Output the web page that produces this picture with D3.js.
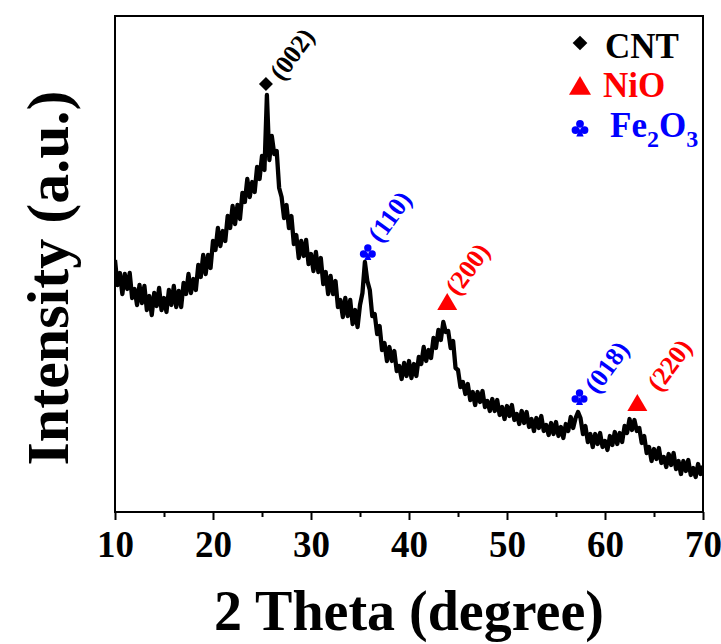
<!DOCTYPE html>
<html><head><meta charset="utf-8">
<script src="https://cdn.jsdelivr.net/npm/d3@7"></script>
<style>body{margin:0;background:#fff}svg{display:block}</style>
</head><body>
<svg id="chart" width="721" height="644"></svg>
<script>
// 2θ sampling (degree)
const twoTheta = [
 10,10.25,10.5,10.75, 11,11.25,11.5,11.75, 12,12.25,12.5,12.75, 13,13.25,13.5,13.75,
 14,14.25,14.5,14.75, 15,15.25,15.5,15.75, 16,16.25,16.5,16.75, 17,17.25,17.5,17.75,
 18,18.25,18.5,18.75, 19,19.25,19.5,19.75, 20,20.25,20.5,20.75, 21,21.25,21.5,21.75,
 22,22.25,22.5,22.75, 23,23.25,23.5,23.75, 24,24.25,24.5,24.75, 25,25.25,25.5,25.75,
 26,26.25,26.5,26.75, 27,27.25,27.5,27.75, 28,28.25,28.5,28.75, 29,29.25,29.5,29.75,
 30,30.25,30.5,30.75, 31,31.25,31.5,31.75, 32,32.25,32.5,32.75, 33,33.25,33.5,33.75,
 34,34.25,34.5,34.75, 35,35.25,35.5,35.75, 36,36.25,36.5,36.75, 37,37.25,37.5,37.75,
 38,38.25,38.5,38.75, 39,39.25,39.5,39.75, 40,40.25,40.5,40.75, 41,41.25,41.5,41.75,
 42,42.25,42.5,42.75, 43,43.25,43.5,43.75, 44,44.25,44.5,44.75, 45,45.25,45.5,45.75,
 46,46.25,46.5,46.75, 47,47.25,47.5,47.75, 48,48.25,48.5,48.75, 49,49.25,49.5,49.75,
 50,50.25,50.5,50.75, 51,51.25,51.5,51.75, 52,52.25,52.5,52.75, 53,53.25,53.5,53.75,
 54,54.25,54.5,54.75, 55,55.25,55.5,55.75, 56,56.25,56.5,56.75, 57,57.25,57.5,57.75,
 58,58.25,58.5,58.75, 59,59.25,59.5,59.75, 60,60.25,60.5,60.75, 61,61.25,61.5,61.75,
 62,62.25,62.5,62.75, 63,63.25,63.5,63.75, 64,64.25,64.5,64.75, 65,65.25,65.5,65.75,
 66,66.25,66.5,66.75, 67,67.25,67.5,67.75, 68,68.25,68.5,68.75, 69,69.25,69.5,69.75,
 70
];
// Intensity (a.u.)
const intensity = [
 252,227,239,218, 238,223,239,214, 223,207,227,209, 226,202,216,197,
 219,206,224,202, 214,200,222,207, 226,205,221,205, 229,218,238,219,
 233,222,247,235, 257,238,257,244, 271,262,284,266, 281,271,296,284,
 306,288,307,293, 319,310,333,315, 330,320,345,333, 356,342,417,352,
 376,358,361,324, 315,294,307,284, 296,268,277,254, 271,256,272,248,
 258,241,260,240, 254,228,240,218, 236,218,231,205, 212,195,214,196,
 212,188,202,185, 207,219,250,231, 222,196,198,178, 186,162,169,151,
 165,151,161,141, 146,133,149,136, 151,134,148,136, 155,148,165,151,
 162,154,174,164, 182,172,190,180, 181,164,171,144, 142,125,130,118,
 128,112,120,107, 120,110,121,105, 111,101,113,101, 112,97,105,93,
 106,96,107,92, 98,88,101,89, 100,85,93,81, 94,84,96,81,
 87,77,89,78, 90,76,85,74, 88,81,95,84, 94,100,94,78,
 86,70,78,65, 78,68,79,65, 71,62,76,67, 80,68,79,70,
 86,79,93,82, 92,81,84,69, 76,59,65,51, 63,53,64,49,
 55,45,58,47, 59,43,51,38, 51,41,52,37, 44,35,48,38,
 46
];
const xTicks = [10, 20, 30, 40, 50, 60, 70];
const xMinorTicks = [15, 25, 35, 45, 55, 65];

// Peak assignments
const peakLabels = ["(002)", "(110)", "(200)", "(018)", "(220)"];
const peakPhase  = ["CNT", "Fe2O3", "NiO", "Fe2O3", "NiO"];
const peakPos    = [25.4, 35.8, 43.9, 57.4, 63.3];   // marker 2θ
const peakMark   = [428, 260, 210, 115, 109];        // marker height (a.u.)
const labelPos   = [27.1, 37.1, 45.0, 59.2, 65.6];   // label start 2θ
const labelHt    = [430, 268, 215, 117, 119];        // label start height (a.u.)

const legendPhases = ["CNT", "NiO", "Fe2O3"];
const phaseColor = {CNT: "#000000", NiO: "#ff0000", Fe2O3: "#0000ff"};

const W = 721, H = 644;
const m = {left: 115, right: 18, top: 16, bottom: 132};
const svg = d3.select("#chart");
const FONT = "'Liberation Serif','Times New Roman',serif";

const x = d3.scaleLinear().domain([10, 70]).range([m.left, W - m.right]);
const y = d3.scaleLinear().domain([0, 496]).range([H - m.bottom, m.top]);

svg.append("defs").append("clipPath").attr("id", "clip")
  .append("rect").attr("x", m.left).attr("y", m.top)
  .attr("width", W - m.left - m.right).attr("height", H - m.top - m.bottom);

// data line
const pts = twoTheta.map((t, i) => [t, intensity[i]]);
svg.append("path").datum(pts)
  .attr("clip-path", "url(#clip)")
  .attr("fill", "none").attr("stroke", "#000").attr("stroke-width", 4.3)
  .attr("stroke-linejoin", "round")
  .attr("d", d3.line().x(d => x(d[0])).y(d => y(d[1])));

// x axis
const gx = svg.append("g").attr("transform", `translate(0,${H - m.bottom})`)
  .call(d3.axisBottom(x).tickValues(xTicks).tickSize(8).tickFormat(d3.format("d")));
gx.select(".domain").remove();
gx.selectAll(".tick line").attr("stroke", "#000").attr("stroke-width", 2);
gx.selectAll("text").attr("y", 45).attr("dy", 0)
  .attr("font-family", FONT).attr("font-weight", "bold").attr("font-size", 37).attr("fill", "#000");
svg.append("g").attr("transform", `translate(0,${H - m.bottom})`)
  .call(d3.axisBottom(x).tickValues(xMinorTicks).tickSize(5).tickFormat(""))
  .call(g => g.select(".domain").remove())
  .selectAll(".tick line").attr("stroke", "#000").attr("stroke-width", 2);

// frame
svg.append("rect").attr("x", m.left).attr("y", m.top)
  .attr("width", W - m.left - m.right).attr("height", H - m.top - m.bottom)
  .attr("fill", "none").attr("stroke", "#000").attr("stroke-width", 2);

// axis titles
svg.append("text").attr("x", 409).attr("y", 630).attr("text-anchor", "middle")
  .attr("font-family", FONT).attr("font-weight", "bold").attr("font-size", 56)
  .text("2 Theta (degree)");
svg.append("text").attr("transform", "translate(68,278) rotate(-90)").attr("text-anchor", "middle")
  .attr("font-family", FONT).attr("font-weight", "bold").attr("font-size", 60)
  .text("Intensity (a.u.)");

// marker drawing
function drawMarker(g, phase, cx, cy, scale) {
  const col = phaseColor[phase];
  const s = scale || 1;
  const mk = g.append("g").attr("transform", `translate(${cx},${cy}) scale(${s})`);
  if (phase === "CNT") {
    mk.append("path").attr("d", d3.symbol(d3.symbolSquare, 98)()).attr("transform", "rotate(45)").attr("fill", col);
  } else if (phase === "NiO") {
    mk.append("path").attr("d", "M0,-9 L10,8 L-10,8 Z").attr("fill", col);
  } else {
    mk.append("circle").attr("cx", 0).attr("cy", -4).attr("r", 3.7).attr("fill", col);
    mk.append("circle").attr("cx", -4.3).attr("cy", 2).attr("r", 3.7).attr("fill", col);
    mk.append("circle").attr("cx", 4.3).attr("cy", 2).attr("r", 3.7).attr("fill", col);
    mk.append("path").attr("d", "M0,0 L-3.5,8 L3.5,8 Z").attr("fill", col);
  }
}

// peak annotations
const ann = svg.append("g");
peakLabels.forEach((lab, i) => {
  const ph = peakPhase[i];
  drawMarker(ann, ph, x(peakPos[i]), y(peakMark[i]), 1);
  ann.append("text")
    .attr("transform", `translate(${x(labelPos[i])},${y(labelHt[i])}) rotate(-54)`)
    .attr("font-family", FONT).attr("font-weight", "bold").attr("font-size", 26)
    .attr("fill", phaseColor[ph]).text(lab);
});

// legend
const leg = svg.append("g");
const legY = [43, 86, 128];
const legTextX = [605, 603, 610];
const legBase = [58, 97, 137];
legendPhases.forEach((ph, i) => {
  drawMarker(leg, ph, 580, legY[i], ph === "NiO" ? 1.1 : 1.05);
  const t = leg.append("text").attr("x", legTextX[i]).attr("y", legBase[i])
    .attr("font-family", FONT).attr("font-weight", "bold").attr("font-size", 35)
    .attr("fill", phaseColor[ph]);
  if (ph === "Fe2O3") {
    t.append("tspan").text("Fe");
    t.append("tspan").attr("font-size", 24).attr("dy", 10).text("2");
    t.append("tspan").attr("dy", -10).text("O");
    t.append("tspan").attr("font-size", 24).attr("dy", 10).text("3");
  } else {
    t.text(ph);
  }
});
</script>
</body></html>
